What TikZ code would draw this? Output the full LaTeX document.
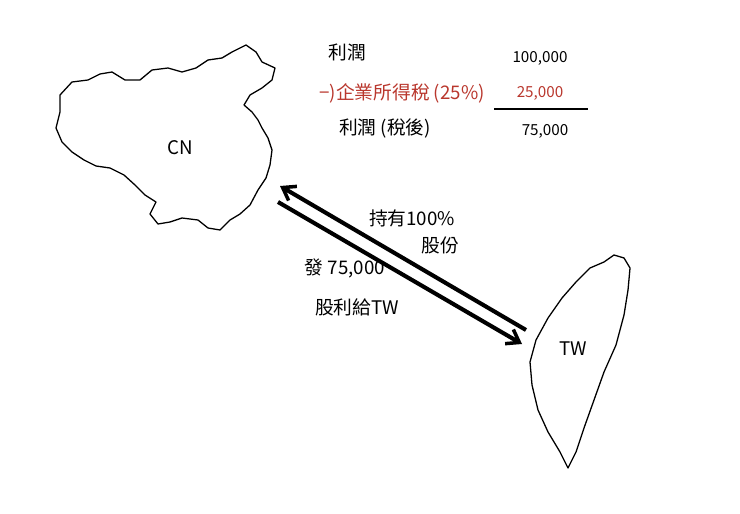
\documentclass[tikz,border=0pt]{standalone}
\usepackage{fontspec}
\setmainfont{Noto Sans CJK TC}
\usetikzlibrary{arrows.meta}
\definecolor{redink}{RGB}{185,55,45}
\begin{document}
\begin{tikzpicture}[x=0.03cm,y=-0.03cm,
  land/.style={draw=black,line width=1.1pt,line join=round},
  txt/.style={font=\fontsize{16}{18}\selectfont,inner sep=0pt},
  num/.style={font=\fontsize{13}{15}\selectfont,inner sep=0pt},
  arr/.style={draw=black,line width=3.5pt,-{Straight Barb[length=10pt,width=14pt,line width=3pt]}}]
\useasboundingbox (0,0) rectangle (740,514);
% China
\draw[land] (60,95)--(72,82)--(88,80)--(100,74)--(112,72)--(125,80)--(140,80)--(152,70)--(168,68)--(182,72)--(196,68)--(208,60)--(222,58)--(232,52)--(246,45)--(256,52)--(262,62)--(275,68)--(272,80)--(262,88)--(250,95)--(244,105)--(252,112)--(258,120)--(262,128)--(268,138)--(272,150)--(270,165)--(266,178)--(258,190)--(250,205)--(240,214)--(230,220)--(220,230)--(208,228)--(198,220)--(182,218)--(170,222)--(158,224)--(150,214)--(156,202)--(145,195)--(135,185)--(124,175)--(110,168)--(96,166)--(84,160)--(72,152)--(62,142)--(56,128)--(60,112)--cycle;
% Taiwan
\draw[land] (604,262)--(614,255)--(624,258)--(630,268)--(628,290)--(624,315)--(616,345)--(604,372)--(594,400)--(584,428)--(576,452)--(568,468)--(560,452)--(548,432)--(538,410)--(532,385)--(530,362)--(536,340)--(548,318)--(562,298)--(576,282)--(590,268)--cycle;
\node[txt] (cn) at (180,148) {CN};
\node[txt] (tw) at (573,349) {TW};
% arrows
\coordinate (a1s) at (526,330); \coordinate (a1e) at (280,186);
\coordinate (a2s) at (278,202); \coordinate (a2e) at (522,344);
\draw[arr] (a1s)--(a1e);
\draw[arr] (a2s)--(a2e);
% table
\node[txt] (l1) at (347,52) {利潤};
\node[num] (v1) at (540,58) {100,000};
\node[txt,text=redink] (l2) at (402,93) {−)企業所得稅 (25\%)};
\node[num,text=redink] (v2) at (540,93) {25,000};
\coordinate (u1) at (494,109); \coordinate (u2) at (588,109);
\draw[line width=1pt] (u1)--(u2);
\node[txt] (l3) at (385,128) {利潤 (稅後)};
\node[num] (v3) at (545,131) {75,000};
% labels
\node[txt] (h1) at (412,218) {持有100\%};
\node[txt] (h2) at (440,245) {股份};
\node[txt] (d1) at (345,268) {發 75,000};
\node[txt] (d2) at (357,307) {股利給TW};
\end{tikzpicture}
\end{document}
